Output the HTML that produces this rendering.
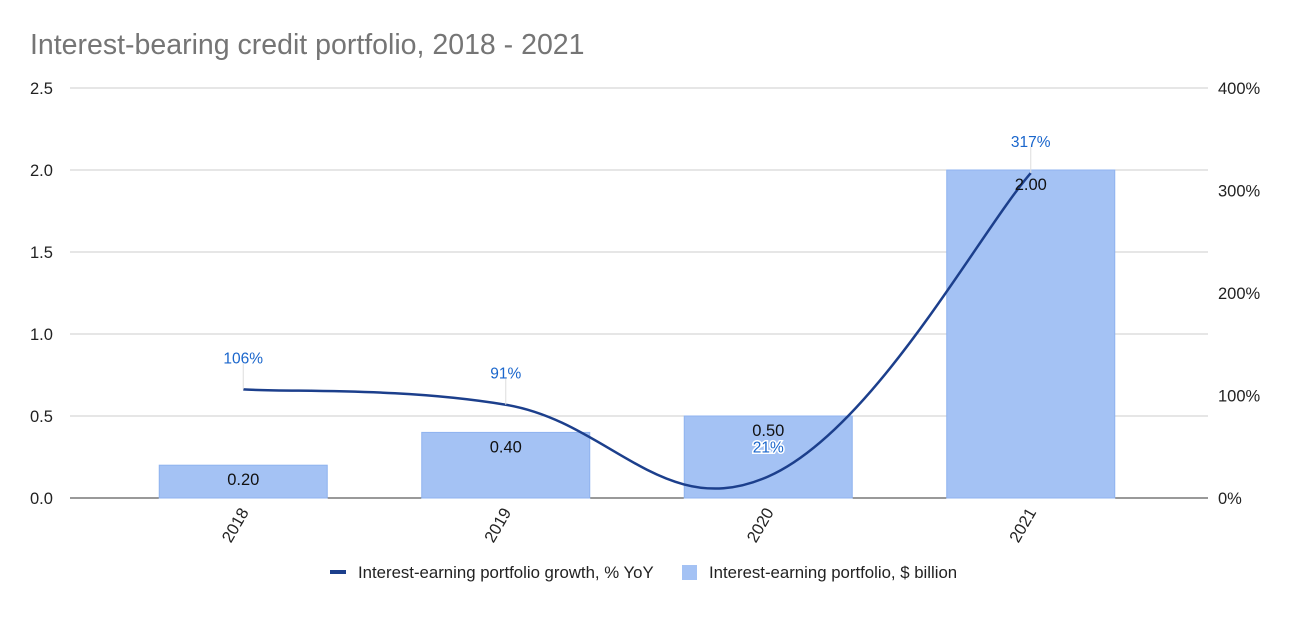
<!DOCTYPE html>
<html><head><meta charset="utf-8"><style>
body{margin:0;background:#fff;font-family:"Liberation Sans",Arial,sans-serif;}
svg text{font-family:"Liberation Sans",Arial,sans-serif;}
</style></head><body>
<svg id="chart" width="1292" height="612" viewBox="0 0 1292 612">
<text x="30" y="54" font-size="28.5" fill="#757575">Interest-bearing credit portfolio, 2018 - 2021</text>
<g id="grid"></g><g id="bars"></g><g id="line"></g><g id="labels"></g>
<g>
<line x1="330" y1="572" x2="346" y2="572" stroke="#1c3f8c" stroke-width="4"/>
<text x="358" y="578" font-size="16.8" fill="#222">Interest-earning portfolio growth, % YoY</text>
<rect x="682" y="565" width="15" height="15" fill="#a4c2f4"/>
<text x="709" y="578" font-size="16.8" fill="#222">Interest-earning portfolio, $ billion</text>
</g>
</svg>
<script>
const categories=["2018","2019","2020","2021"];
const portfolio=[0.20,0.40,0.50,2.00];
const growth=[106,91,21,317];
const leftTicks=[0,0.5,1.0,1.5,2.0,2.5];
const rightTicks=[0,100,200,300,400];
const NS="http://www.w3.org/2000/svg";
const X0=112,X1=1162,Y0=498,Y1=88,GL=70,GR=1208;
const yL=v=>Y0-(v/2.5)*(Y0-Y1);
const yR=v=>Y0-(v/400)*(Y0-Y1);
const bw=(X1-X0)/categories.length;
const xc=i=>X0+bw*(i+0.5);
function mk(t,a,p,txt){const e=document.createElementNS(NS,t);for(const k in a)e.setAttribute(k,a[k]);if(txt!==undefined)e.textContent=txt;document.getElementById(p).appendChild(e);return e;}
leftTicks.forEach(v=>{
 const l=mk('line',{x1:GL,x2:GR,y1:yL(v),y2:yL(v),stroke:v===0?'#333':'#ccc','stroke-width':1},'grid');
 
 
 const t=mk('text',{x:30,y:yL(v)+6,'font-size':16.5,fill:'#222'},'grid',v.toFixed(1));
 
 
});
rightTicks.forEach(v=>{
 const t=mk('text',{x:1218,y:yR(v)+6,'font-size':16.5,fill:'#222'},'grid',v+'%');
 
 
});
categories.forEach((c,i)=>{
 const w=168,h=Y0-yL(portfolio[i]);
 const r=mk('rect',{x:xc(i)-w/2,y:yL(portfolio[i]),width:w,height:h,fill:'#a4c2f4',stroke:'#8fb3ef','stroke-width':1},'bars');
 
 
 const t=mk('text',{x:xc(i),y:yL(portfolio[i])+20,'font-size':16.5,fill:'#111','text-anchor':'middle'},'labels',portfolio[i].toFixed(2));
 
 
 const xl=mk('text',{x:0,y:0,'font-size':16.5,fill:'#222','text-anchor':'end',transform:`translate(${xc(i)+6},${Y0+14}) rotate(-60)`},'labels',c);
 
 
});
const pts=growth.map((g,i)=>[xc(i),yR(g)]);
let d=`M${pts[0][0]},${pts[0][1]}`;
for(let i=0;i<pts.length-1;i++){
 const p0=pts[Math.max(0,i-1)],p1=pts[i],p2=pts[i+1],p3=pts[Math.min(pts.length-1,i+2)];
 const k=0.2;
 const c1=[p1[0]+(p2[0]-p0[0])*k,p1[1]+(p2[1]-p0[1])*k];
 const c2=[p2[0]-(p3[0]-p1[0])*k,p2[1]-(p3[1]-p1[1])*k];
 d+=` C${c1[0]},${c1[1]} ${c2[0]},${c2[1]} ${p2[0]},${p2[1]}`;
}
const path=mk('path',{d:d,fill:'none',stroke:'#1c3f8c','stroke-width':2.5},'line');


growth.forEach((g,i)=>{
 const above=i!==2;
 const y=pts[i][1];
 if(above){
  const ln=mk('line',{x1:pts[i][0],x2:pts[i][0],y1:y-26,y2:y,stroke:'#ddd','stroke-width':1},'labels');
  
  
 }
 const ty=above?y-26:y-24;
 const t=mk('text',{x:pts[i][0],y:ty,'font-size':15.5,fill:'#1a66cc','text-anchor':'middle',stroke:above?'none':'#fff','stroke-width':above?0:3,'paint-order':'stroke'},'labels',g+'%');
 
 
});
</script>
</body></html>
